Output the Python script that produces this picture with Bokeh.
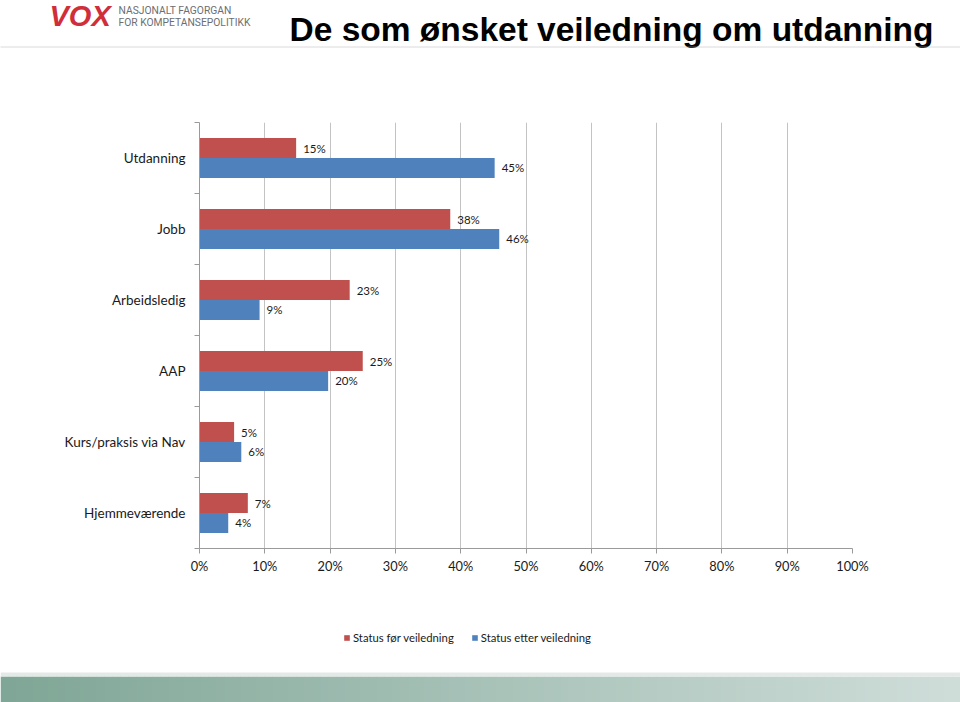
from bokeh.plotting import figure
from bokeh.layouts import column
from bokeh.models import (Range1d, LinearAxis, FixedTicker, SingleIntervalTicker,
                          PrintfTickFormatter, Legend, LegendItem, Label, Span,
                          ColumnDataSource)
from bokeh.core.properties import value
from bokeh.embed import file_html
from bokeh.resources import INLINE

# ---------------- data ----------------
categories = ["Utdanning", "Jobb", "Arbeidsledig", "AAP",
              "Kurs/praksis via Nav", "Hjemmeværende"]
before = [14.8, 38.4, 23.0, 25.0, 5.3, 7.4]    # Status før veiledning (%)
after = [45.2, 45.9, 9.2, 19.7, 6.4, 4.4]      # Status etter veiledning (%)
series_names = ["Status før veiledning", "Status etter veiledning"]
x_ticks_step = 10

RED = "#c0504d"
BLUE = "#4f81bd"
FONT = "Lato"
GRID = "#c3c3c3"
AXIS = "#9a9a9a"

W = 960
H_HEAD, H_MAIN, H_LEG, H_FOOT = 48, 542, 78, 34


def blank(h, xr, yr):
    f = figure(width=W, height=h, x_range=xr, y_range=yr,
               toolbar_location=None, output_backend="svg", min_border=0,
               x_axis_location=None, y_axis_location=None, outline_line_color=None)
    f.grid.visible = False
    f.frame_align = False
    return f


# ---------------- header ----------------
head = blank(H_HEAD, Range1d(0, W), Range1d(H_HEAD, 0))
head.add_layout(Label(x=49, y=15.5, text="VOX", text_color="#cf2e3a",
                      text_font="Liberation Sans", text_font_style="bold italic",
                      text_font_size="29px", text_baseline="alphabetic"))
head.add_layout(Label(x=118, y=9.5, text="NASJONALT FAGORGAN", text_color="#6d6e71",
                      text_font="Roboto", text_font_size="10.3px",
                      text_baseline="alphabetic"))
head.add_layout(Label(x=118, y=21.5, text="FOR KOMPETANSEPOLITIKK", text_color="#6d6e71",
                      text_font="Roboto", text_font_size="10.3px",
                      text_baseline="alphabetic"))
head.add_layout(Label(x=289, y=29, text="De som ønsket veiledning om utdanning",
                      text_color="#000000", text_font="Liberation Sans",
                      text_font_style="bold", text_font_size="33.5px",
                      text_baseline="alphabetic"))
head.add_layout(Span(location=46.5, dimension="width", line_color="#b4b4b4",
                     line_width=1, line_dash="1 1"))

# ---------------- main chart ----------------
n = len(categories)
ypos = [n - 0.5 - i for i in range(n)]          # category centres, top to bottom
half = 0.14
src = ColumnDataSource(dict(
    y_before=[y + half for y in ypos], y_after=[y - half for y in ypos],
    before=before, after=after,
    lbl_before=[f"{v:.0f}%" for v in before],
    lbl_after=[f"{v:.0f}%" for v in after],
))

p = figure(width=W, height=H_MAIN, x_range=Range1d(0, 100), y_range=Range1d(0, n),
           toolbar_location=None, output_backend="svg",
           min_border_left=199, min_border_right=108, min_border_top=74, min_border_bottom=42,
           x_axis_location=None, y_axis_location=None, outline_line_color=None)
p.frame_align = False

r_before = p.hbar(y="y_before", left=0, right="before", height=2 * half, source=src,
                  fill_color=RED, line_color=None)
r_after = p.hbar(y="y_after", left=0, right="after", height=2 * half, source=src,
                 fill_color=BLUE, line_color=None)

for col, ycol in (("before", "y_before"), ("after", "y_after")):
    p.text(x=col, y=ycol, text="lbl_" + col, source=src, x_offset=7,
           text_align="left", text_baseline="middle", text_color="#1a1a1a",
           text_font=value(FONT), text_font_size="11.5px")

# x axis
xax = LinearAxis(ticker=SingleIntervalTicker(interval=x_ticks_step),
                 formatter=PrintfTickFormatter(format="%d%%"))
xax.axis_line_color = AXIS
xax.major_tick_line_color = AXIS
xax.major_tick_out = 5
xax.major_tick_in = 0
xax.minor_tick_line_color = None
xax.major_label_standoff = 4
xax.major_label_text_font = FONT
xax.major_label_text_font_size = "12.8px"
xax.major_label_text_color = "#1a1a1a"
p.add_layout(xax, "below")

# vertical grid lines
p.xgrid.ticker = SingleIntervalTicker(interval=x_ticks_step)
p.xgrid.grid_line_color = GRID
p.ygrid.visible = False

# y axis: labels at category centres, minor ticks at category boundaries
yax = LinearAxis(ticker=FixedTicker(ticks=ypos, minor_ticks=list(range(n + 1))),
                 major_label_overrides={y: c for y, c in zip(ypos, categories)})
yax.axis_line_color = AXIS
yax.major_tick_line_color = None
yax.major_tick_out = 0
yax.major_tick_in = 0
yax.minor_tick_line_color = AXIS
yax.minor_tick_out = 5
yax.minor_tick_in = 0
yax.major_label_standoff = 9
yax.major_label_text_font = FONT
yax.major_label_text_font_size = "13.5px"
yax.major_label_text_color = "#1a1a1a"
p.add_layout(yax, "left")

# ---------------- legend strip ----------------
leg = blank(H_LEG, Range1d(0, W), Range1d(0, H_LEG))
# one off-view sample per series so that the legend swatches get their colours
off = dict(y=[-H_LEG], right=[1])
lr_before = leg.hbar(y="y", right="right", left=0, height=1, source=ColumnDataSource(off),
                     fill_color=RED, line_color=None)
lr_after = leg.hbar(y="y", right="right", left=0, height=1, source=ColumnDataSource(dict(off)),
                    fill_color=BLUE, line_color=None)
legend = Legend(items=[LegendItem(label=series_names[0], renderers=[lr_before]),
                       LegendItem(label=series_names[1], renderers=[lr_after])],
                orientation="horizontal", location=(343, 24),
                glyph_width=7, glyph_height=7, label_standoff=3, spacing=17,
                label_height=12, label_text_font=FONT, label_text_font_size="11.3px",
                label_text_color="#1a1a1a", padding=0, margin=0,
                border_line_color=None, background_fill_alpha=0)
leg.add_layout(legend, "center")

# ---------------- footer band ----------------
foot = blank(H_FOOT, Range1d(0, W), Range1d(H_FOOT, 0))
c0 = (0x7f, 0xa6, 0x96)
c1 = (0xcf, 0xdd, 0xd9)
N = 120
lefts = [W * i / N for i in range(N)]
rights = [W * (i + 1) / N + 0.5 for i in range(N)]
cols = []
for i in range(N):
    t = i / (N - 1)
    cols.append("#%02x%02x%02x" % tuple(int(round(a + (b - a) * t)) for a, b in zip(c0, c1)))
foot.quad(left=lefts, right=rights, top=8, bottom=H_FOOT, fill_color=cols, line_color=None)
foot.quad(left=0, right=W, top=4, bottom=8, fill_color="#e3e9e6", line_color=None)

layout = column(head, p, leg, foot, spacing=0)
open("out.html", "w").write(file_html(layout, INLINE))
